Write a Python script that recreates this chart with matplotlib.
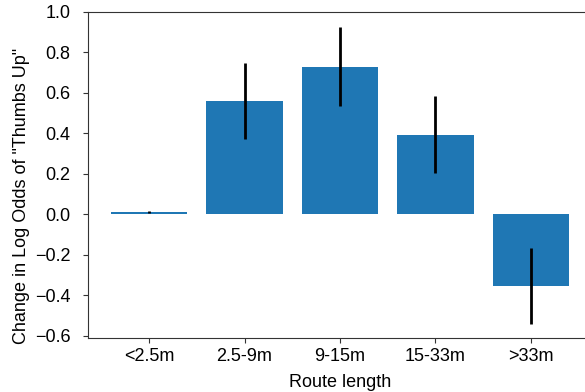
import matplotlib
matplotlib.use("Agg")
import matplotlib.pyplot as plt
import numpy as np

categories = ["<2.5m", "2.5-9m", "9-15m", "15-33m", ">33m"]
values = [0.011, 0.56, 0.73, 0.393, -0.353]
errors = [0.003, 0.187, 0.195, 0.19, 0.188]

plt.rcParams['font.family'] = ['Liberation Sans', 'DejaVu Sans']

fig = plt.figure(figsize=(5.85, 3.92), dpi=100)
ax_left, ax_right, ax_top, ax_bottom = 88, 592, 12, 338
ax = fig.add_axes([ax_left/585, 1 - ax_bottom/392, (ax_right-ax_left)/585, (ax_bottom-ax_top)/392])
x = np.arange(len(categories))
ax.bar(x, values, width=0.8, color="#1f77b4")
ax.errorbar(x, values, yerr=errors, fmt="none", ecolor="black", elinewidth=2)
ax.set_xticks(x)
ax.set_xticklabels(categories, fontsize=13)
ax.set_ylim(-0.612, 1.0)
ax.set_xlim(-0.64, 4.64)
ax.set_yticks([-0.6, -0.4, -0.2, 0.0, 0.2, 0.4, 0.6, 0.8, 1.0])
ax.set_yticklabels(["\u22120.6", "\u22120.4", "\u22120.2", "0.0", "0.2", "0.4", "0.6", "0.8", "1.0"])
ax.tick_params(axis='both', labelsize=13, color="#333333")
ax.tick_params(axis='y', pad=9)
ax.set_xlabel("Route length", fontsize=13)
ax.set_ylabel('Change in Log Odds of "Thumbs Up"', fontsize=13)
ax.yaxis.set_label_coords((30-ax_left)/(ax_right-ax_left), 1-(195.5-ax_top)/(ax_bottom-ax_top))
ax.xaxis.set_label_coords(0.5, -(374-ax_bottom)/(ax_bottom-ax_top))
for s in ax.spines.values():
    s.set_color("#333333")
fig.savefig("out.png", dpi=100)
